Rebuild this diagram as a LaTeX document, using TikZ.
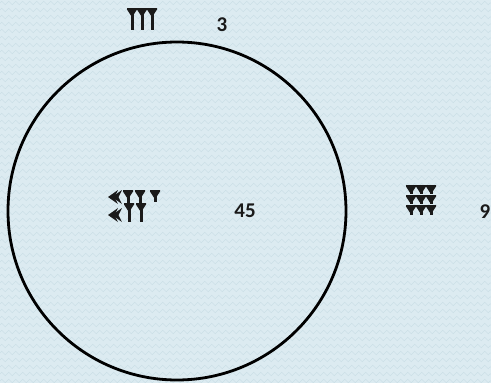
\documentclass[tikz,border=0pt]{standalone}
\usepackage{fontspec}
\setmainfont{Carlito}
\usetikzlibrary{decorations.pathmorphing}
\definecolor{bgblue}{HTML}{DCEBF1}
\definecolor{zig}{HTML}{CCDFE7}
\definecolor{ink}{HTML}{1A1A1A}
\tikzset{
  wedge/.pic={\fill[ink] (-5,0) -- (5,0) -- (5,1.5) -- (0.8,8) -- (-0.8,8) -- (-5,1.5) -- cycle;
              \draw[ink,line width=3pt] (0,1) -- (0,#1);},
  chev/.pic={\fill[ink] (5,-7) -- (-5,0) -- (5,7) -- (1.5,0) -- cycle;},
  numtext/.style={font=\fontsize{21}{21}\selectfont\bfseries, text=ink, inner sep=0pt}
}
\begin{document}
\begin{tikzpicture}[x=1pt,y=-1pt]
\fill[bgblue] (0,0) rectangle (491,383);
\useasboundingbox (0,0) rectangle (491,383);
\foreach \yy in {3,10,...,383}{
  \draw[zig,line width=0.6pt,decorate,decoration={zigzag,segment length=7pt,amplitude=1.8pt}] (0,\yy) -- (491,\yy);
}
% circle
\node[draw=black,line width=2.8pt,circle,minimum size=338pt,inner sep=0pt] (circ) at (177,211) {};
% top number 3
\pic at (132,8) {wedge=22};
\pic at (142,8) {wedge=22};
\pic at (152,8) {wedge=22};
\node[numtext] (t3) at (222,25) {3};
% 45
\pic at (113,197) {chev};
\pic at (117,197) {chev};
\pic at (113,215) {chev};
\pic at (117,215) {chev};
\pic at (128,190) {wedge=15};
\pic at (140,190) {wedge=15};
\pic at (155,190) {wedge=12};
\pic at (129,203) {wedge=19};
\pic at (141,203) {wedge=19};
\node[numtext] (t45) at (245,211) {45};
% 9
\foreach \r/\l in {185/9,195/9,205/10}{
  \pic at (411,\r) {wedge=\l};
  \pic at (421,\r) {wedge=\l};
  \pic at (431,\r) {wedge=\l};
}
\node[numtext] (t9) at (485,212) {9};
\end{tikzpicture}
\end{document}
